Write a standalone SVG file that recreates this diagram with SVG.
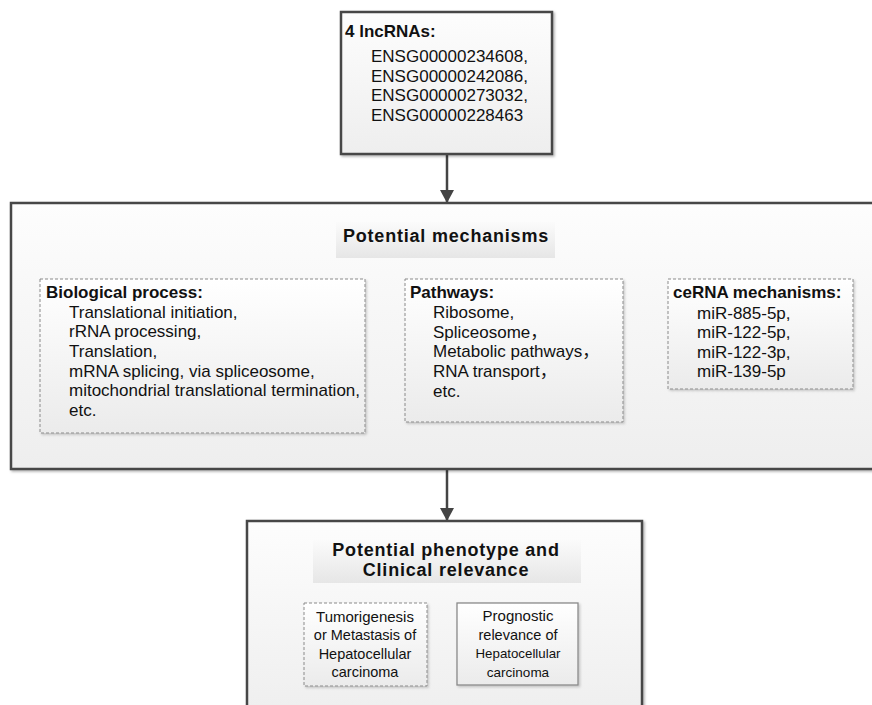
<svg xmlns="http://www.w3.org/2000/svg" width="872" height="705" viewBox="0 0 872 705">
<style>
text{font-family:"Liberation Sans",Arial,"Noto Sans CJK SC",sans-serif;fill:#111}
.b{font-weight:bold;font-size:17px}
.t{font-size:17px}
.h{font-weight:bold;font-size:18px;letter-spacing:0.8px}
.outer{stroke:#474747;stroke-width:2.5;filter:url(#sh)}
.dash{stroke:#8a8a8a;stroke-width:1;stroke-dasharray:3 2;fill:url(#gi);filter:url(#sh2)}
.solid{stroke:#8a8a8a;stroke-width:1.3;fill:url(#gi);filter:url(#sh2)}
.conn{stroke:#444;stroke-width:2.5;fill:none;marker-end:url(#ah)}
</style>
<defs>
<linearGradient id="go" x1="0" y1="0" x2="0" y2="1"><stop offset="0" stop-color="#fdfdfd"/><stop offset="1" stop-color="#eeeeee"/></linearGradient>
<linearGradient id="gi" x1="0" y1="0" x2="0" y2="1"><stop offset="0" stop-color="#ffffff"/><stop offset="1" stop-color="#ebebeb"/></linearGradient>
<linearGradient id="gh" x1="0" y1="0" x2="0" y2="1"><stop offset="0" stop-color="#fbfbfb"/><stop offset="1" stop-color="#e6e6e6"/></linearGradient>
<filter id="sh" x="-5%" y="-5%" width="110%" height="110%"><feDropShadow dx="1.5" dy="1.5" stdDeviation="1.2" flood-color="#000" flood-opacity="0.3"/></filter>
<filter id="sh2" x="-5%" y="-5%" width="110%" height="110%"><feDropShadow dx="1.5" dy="1.5" stdDeviation="1" flood-color="#000" flood-opacity="0.2"/></filter>
<marker id="ah" markerUnits="userSpaceOnUse" markerWidth="14" markerHeight="14" refX="13" refY="7" orient="auto"><path d="M0,0 L13,7 L0,14 Z" fill="#444"/></marker>
</defs>

<g id="connectors">
<line class="conn" x1="447" y1="155" x2="447" y2="203"/>
<line class="conn" x1="447" y1="469" x2="447" y2="521"/>
</g>

<g id="lncRNAs">
<rect class="outer" x="341" y="12" width="211" height="142" fill="url(#go)"/>
<text class="b" x="345" y="37">4 lncRNAs:</text>
<text class="t" x="371" y="62">ENSG00000234608,</text>
<text class="t" x="371" y="82">ENSG00000242086,</text>
<text class="t" x="371" y="101">ENSG00000273032,</text>
<text class="t" x="371" y="121">ENSG00000228463</text>
</g>

<g id="mechanisms">
<rect class="outer" x="11" y="203" width="880" height="266" fill="url(#go)"/>
<rect x="336" y="222" width="219" height="36" fill="url(#gh)"/>
<text class="h" x="446" y="242" text-anchor="middle">Potential mechanisms</text>
</g>

<g id="biological">
<rect class="dash" x="40" y="279" width="325" height="154"/>
<text class="b" x="46" y="298">Biological process:</text>
<text class="t" x="69" y="318">Translational initiation,</text>
<text class="t" x="69" y="337">rRNA processing,</text>
<text class="t" x="69" y="357">Translation,</text>
<text class="t" x="69" y="377">mRNA splicing, via spliceosome,</text>
<text class="t" x="69" y="396">mitochondrial translational termination,</text>
<text class="t" x="69" y="416">etc.</text>
</g>

<g id="pathways">
<rect class="dash" x="405" y="279" width="218" height="143"/>
<text class="b" x="410" y="298">Pathways:</text>
<text class="t" x="433" y="318">Ribosome,</text>
<text class="t" x="433" y="338">Spliceosome，</text>
<text class="t" x="433" y="357">Metabolic pathways，</text>
<text class="t" x="433" y="377">RNA transport，</text>
<text class="t" x="433" y="397">etc.</text>
</g>

<g id="cerna">
<rect class="dash" x="668" y="279" width="185" height="110"/>
<text class="b" x="673" y="298">ceRNA mechanisms:</text>
<text class="t" x="697" y="319">miR-885-5p,</text>
<text class="t" x="697" y="338">miR-122-5p,</text>
<text class="t" x="697" y="358">miR-122-3p,</text>
<text class="t" x="697" y="377">miR-139-5p</text>
</g>

<g id="phenotype">
<rect class="outer" x="247" y="521" width="395" height="200" fill="url(#go)"/>
<rect x="313" y="540" width="268" height="43" fill="url(#gh)"/>
<text class="h" x="446" y="556" text-anchor="middle">Potential phenotype and</text>
<text class="h" x="446" y="576" text-anchor="middle">Clinical relevance</text>
</g>

<g id="tumorigenesis">
<rect class="dash" x="304" y="603" width="123" height="83"/>
<text x="365" y="622" font-size="15" text-anchor="middle">Tumorigenesis</text>
<text x="365" y="640" font-size="14.5" text-anchor="middle">or Metastasis of</text>
<text x="365" y="659" font-size="14.5" text-anchor="middle">Hepatocellular</text>
<text x="365" y="677" font-size="14.5" text-anchor="middle">carcinoma</text>
</g>

<g id="prognostic">
<rect class="solid" x="457" y="603" width="121" height="82"/>
<text x="518" y="621" font-size="15" text-anchor="middle">Prognostic</text>
<text x="518" y="640" font-size="14.5" text-anchor="middle">relevance of</text>
<text x="518" y="658" font-size="13.3" text-anchor="middle">Hepatocellular</text>
<text x="518" y="677" font-size="13.5" text-anchor="middle">carcinoma</text>
</g>
</svg>
